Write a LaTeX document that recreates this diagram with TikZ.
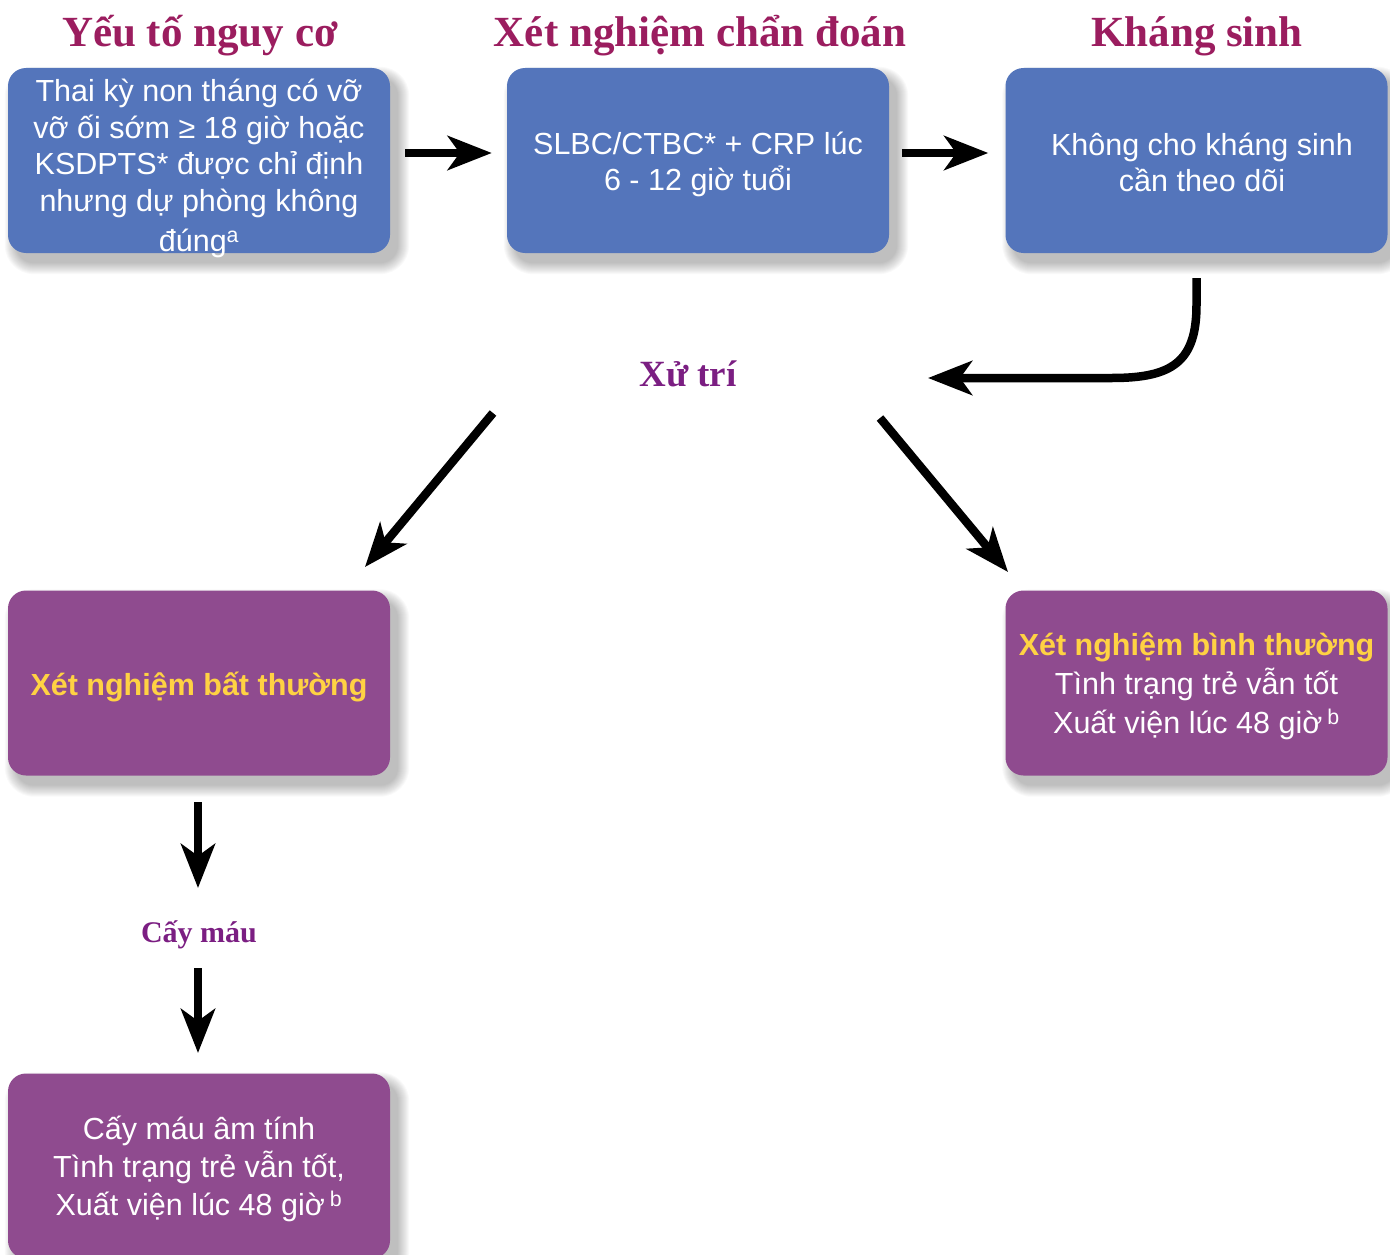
\documentclass[tikz,border=0pt]{standalone}
\usepackage{fontspec}
\setmainfont{Liberation Sans}
\newfontfamily\headfont{Liberation Serif}
\usetikzlibrary{arrows.meta}
\definecolor{boxblue}{RGB}{84,117,187}
\definecolor{boxpurple}{RGB}{143,75,143}
\definecolor{headred}{RGB}{155,29,95}
\definecolor{headpurple}{RGB}{123,30,130}
\definecolor{textyellow}{RGB}{255,210,67}
\pgfdeclarelayer{background}
\pgfsetlayers{background,main}
\begin{document}
\begin{tikzpicture}[x=1pt,y=-1pt,
  box/.style={rounded corners=18pt, minimum width=382pt, minimum height=185pt, inner sep=0pt},
  bluebox/.style={box, fill=boxblue},
  purplebox/.style={box, fill=boxpurple},
  boxtext/.style={inner sep=0pt, text=white, align=center, font=\fontsize{30.5}{36.5}\selectfont},
  heading/.style={text=headred, font=\headfont\bfseries\fontsize{43}{50}\selectfont, inner sep=0pt, anchor=base},
  subhead/.style={text=headpurple, font=\headfont\bfseries\fontsize{37}{42}\selectfont, inner sep=0pt, anchor=base},
  arrowline/.style={line width=8.5pt, -{Stealth[length=44pt,width=34pt,inset=12pt]}},
]
\useasboundingbox (0,0) rectangle (1390,1255);

% headings
\node[heading] (h1) at (200,47) {Yếu tố nguy cơ};
\node[heading] (h2) at (700,47) {Xét nghiệm chẩn đoán};
\node[heading] (h3) at (1197,47) {Kháng sinh};

% boxes
\node[bluebox] (b1) at (199,160.5) {};
\node[bluebox] (b2) at (698,160.5) {};
\node[bluebox] (b3) at (1196.5,160.5) {};
\node[purplebox] (b4) at (199,683) {};
\node[purplebox] (b5) at (1196.5,683) {};
\node[purplebox] (b6) at (199,1166) {};

% box texts
\node[boxtext] (t1) at (199,168.5) {Thai kỳ non tháng có vỡ\\vỡ ối sớm ≥ 18 giờ hoặc\\KSDPTS* được chỉ định\\nhưng dự phòng không\\[4pt]đúng\textsuperscript{a}};
\node[boxtext] (t2) at (698,164.5) {SLBC/CTBC* + CRP lúc\\6 - 12 giờ tuổi};
\node[boxtext] (t3) at (1202,162.5) {Không cho kháng sinh\\cần theo dõi};
\node[boxtext] (t4) at (199,687) {\bfseries\color{textyellow}Xét nghiệm bất thường};
\node[boxtext] (t5) at (1196.5,686) {{\bfseries\color{textyellow}Xét nghiệm bình thường}\\[2.5pt]Tình trạng trẻ vẫn tốt\\[2.5pt]Xuất viện lúc 48 giờ\,\textsuperscript{b}};
\node[boxtext] (t6) at (199,1169) {Cấy máu âm tính\\[1pt]Tình trạng trẻ vẫn tốt,\\[2pt]Xuất viện lúc 48 giờ\,\textsuperscript{b}};

% soft shadows
\begin{pgfonlayer}{background}
\foreach \b in {b1,b2,b3,b4,b5,b6}{
  \foreach \k in {1,...,12}{
    \pgfmathsetmacro\e{12-\k}
    \pgfmathsetmacro\r{18+\e}
    \fill[black, opacity=0.024, rounded corners=\r pt]
      ([shift={(8-\e,10-\e)}]\b.north west) rectangle ([shift={(8+\e,10+\e)}]\b.south east);
  }
}
\end{pgfonlayer}

% middle labels
\node[subhead] (xt) at (688,386) {Xử trí};
\node[subhead, font=\headfont\bfseries\fontsize{30}{36}\selectfont] (cm) at (199,942) {Cấy máu};

% connector free ends
\coordinate (c3tip) at (928,378);
\coordinate (dls) at (493,413);
\coordinate (dlt) at (365,567);
\coordinate (drs) at (880,418);
\coordinate (drt) at (1008,572);
\coordinate (d1s) at (198,802);
\coordinate (d1t) at (198,888);
\coordinate (d2s) at (198,968);
\coordinate (d2t) at (198,1053);

% connectors
\draw[arrowline, shorten <=15pt, shorten >=15pt] ([yshift=7.5pt]b1.east) -- ([yshift=7.5pt]b2.west);
\draw[arrowline, shorten <=13pt, shorten >=17pt] ([yshift=7.5pt]b2.east) -- ([yshift=7.5pt]b3.west);
\draw[arrowline, shorten <=25pt] (b3.south) -- (1196.5,305) .. controls (1196.5,362) and (1172,378) .. (1112,378) -- (c3tip);
\draw[arrowline] (dls) -- (dlt);
\draw[arrowline] (drs) -- (drt);
\draw[arrowline] (d1s) -- (d1t);
\draw[arrowline] (d2s) -- (d2t);
\end{tikzpicture}
\end{document}
